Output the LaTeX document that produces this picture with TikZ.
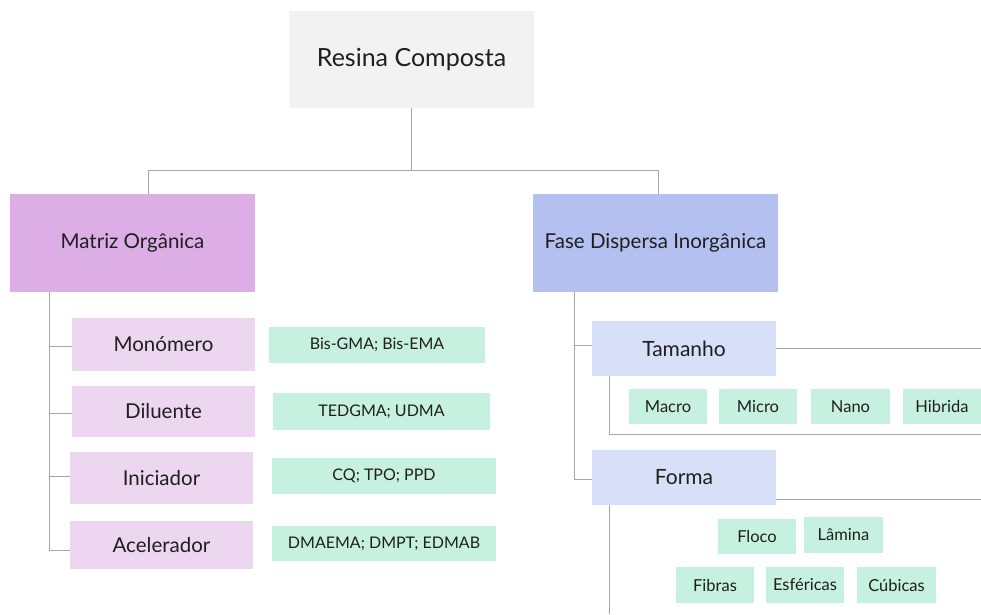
\documentclass[tikz,border=0pt]{standalone}
\usepackage{fontspec}
\setmainfont{Lato}
\definecolor{rootfill}{HTML}{F2F2F2}
\definecolor{matfill}{HTML}{DDAEE6}
\definecolor{fasefill}{HTML}{B4C0F0}
\definecolor{subfill}{HTML}{EDD6F0}
\definecolor{tamfill}{HTML}{D8DFF8}
\definecolor{leaffill}{HTML}{C6F0E0}
\definecolor{linegray}{HTML}{A6A6A6}
\begin{document}
\begin{tikzpicture}[x=1pt,y=-1pt,
  box/.style={anchor=north west,inner sep=0pt,outer sep=0pt,text=black!88},
  rootbox/.style={box,fill=rootfill,font=\fontsize{25}{28}\selectfont},
  matbox/.style={box,fill=matfill,font=\fontsize{20.5}{23}\selectfont},
  fasebox/.style={box,fill=fasefill,font=\fontsize{20.5}{23}\selectfont},
  subbox/.style={box,fill=subfill,font=\fontsize{20.5}{23}\selectfont},
  tambox/.style={box,fill=tamfill,font=\fontsize{21}{23}\selectfont},
  leafbox/.style={box,fill=leaffill,font=\fontsize{16}{18}\selectfont},
  smallleaf/.style={box,fill=leaffill,font=\fontsize{16.5}{18}\selectfont},
  conn/.style={draw=linegray,line width=1pt}]
\useasboundingbox (0,0) rectangle (981,614);

% root
\node[rootbox,minimum width=245,minimum height=97] (root) at (289,11) {Resina Composta};
% level 1
\node[matbox,minimum width=245,minimum height=98] (mat) at (10,194) {Matriz Orgânica};
\node[fasebox,minimum width=245,minimum height=98] (fase) at (533,194) {Fase Dispersa Inorgânica};

% left sub boxes
\node[subbox,minimum width=183,minimum height=53] (mono) at (72,318) {Monómero};
\node[subbox,minimum width=183,minimum height=51] (dil) at (72,386) {Diluente};
\node[subbox,minimum width=183,minimum height=52] (ini) at (70,452) {Iniciador};
\node[subbox,minimum width=183,minimum height=48] (ace) at (70,521) {Acelerador};

% left leaves
\node[leafbox,minimum width=216,minimum height=36] (l1) at (269,327) {Bis-GMA; Bis-EMA};
\node[leafbox,minimum width=217,minimum height=37] (l2) at (273,393) {TEDGMA; UDMA};
\node[leafbox,minimum width=224,minimum height=36] (l3) at (272,458) {CQ; TPO; PPD};
\node[leafbox,minimum width=224,minimum height=35] (l4) at (272,526) {DMAEMA; DMPT; EDMAB};

% right sub boxes
\node[tambox,minimum width=184,minimum height=55] (tam) at (592,321) {Tamanho};
\node[tambox,minimum width=184,minimum height=55] (forma) at (592,450) {Forma};

% tamanho leaves
\node[smallleaf,minimum width=78,minimum height=35] (macro) at (629,389) {Macro};
\node[smallleaf,minimum width=78,minimum height=35] (micro) at (719,389) {Micro};
\node[smallleaf,minimum width=79,minimum height=35] (nano) at (811,389) {Nano};
\node[smallleaf,minimum width=78,minimum height=35] (hib) at (903,389) {Hibrida};

% forma leaves
\node[smallleaf,minimum width=78,minimum height=35] (floco) at (718,519) {Floco};
\node[smallleaf,minimum width=79,minimum height=36] (lam) at (804,517) {Lâmina};
\node[smallleaf,minimum width=78,minimum height=36] (fib) at (676,567) {Fibras};
\node[smallleaf,minimum width=78,minimum height=36] (esf) at (766,567) {Esféricas};
\node[smallleaf,minimum width=79,minimum height=36] (cub) at (857,567) {Cúbicas};

% connectors
\coordinate (jl) at (148,170);
\coordinate (jr) at (658,170);
\draw[conn] (root.south) -- (root.south |- jl);
\draw[conn] (jl |- mat.north) -- (jl) -- (jr) -- (jr |- fase.north);

\coordinate (lt) at (49,550);
\draw[conn] (lt |- mat.south) -- (lt);
\draw[conn] (49,346) -- (mono.west |- 0,346);
\draw[conn] (49,413) -- (dil.west |- 0,413);
\draw[conn] (49,476) -- (ini.west |- 0,476);
\draw[conn] (lt) -- (ace.west |- lt);

\coordinate (rt) at (574,479);
\draw[conn] (rt |- fase.south) -- (rt) -- (forma.west |- rt);
\draw[conn] (574,345) -- (tam.west |- 0,345);

\coordinate (te) at (981,348);
\draw[conn] (tam.east |- te) -- (te);
\coordinate (tb) at (609,434);
\draw[conn] (tb |- tam.south) -- (tb) -- (981,434);

\coordinate (fe) at (981,499);
\draw[conn] (forma.east |- fe) -- (fe);
\coordinate (fb) at (609,614);
\draw[conn] (fb |- forma.south) -- (fb);
\end{tikzpicture}
\end{document}
